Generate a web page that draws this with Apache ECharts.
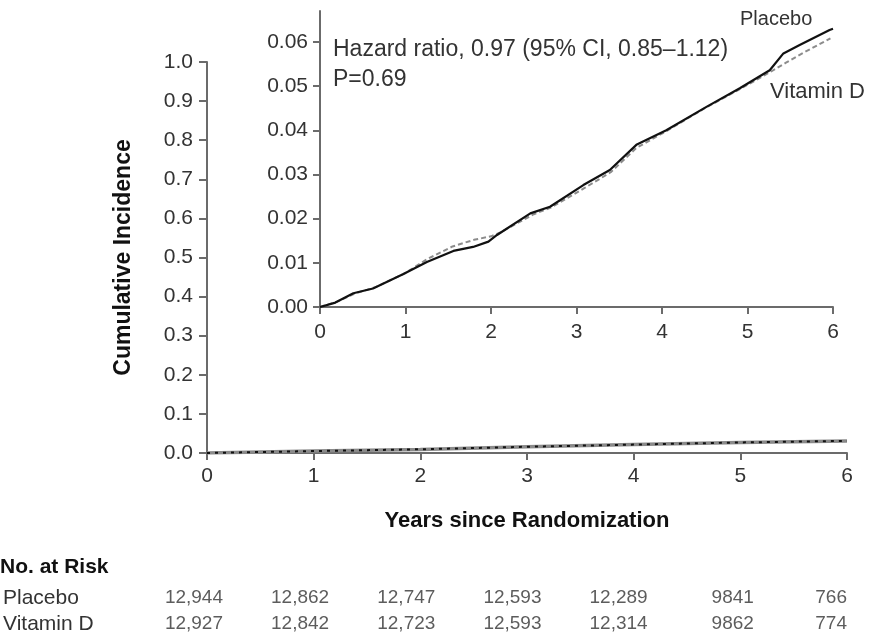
<!DOCTYPE html>
<html><head><meta charset="utf-8">
<script src="https://cdn.jsdelivr.net/npm/echarts@6/dist/echarts.min.js"></script>
<style>html,body{margin:0;padding:0;background:#fff}#c{width:874px;height:640px}</style>
</head><body><div id="c"></div>
<script>
// ---------- data ----------
var years = [0, 1, 2, 3, 4, 5, 6];
var mainTicks = [0, 0.1, 0.2, 0.3, 0.4, 0.5, 0.6, 0.7, 0.8, 0.9, 1.0];
var insetTicks = [0, 0.01, 0.02, 0.03, 0.04, 0.05, 0.06];

// main panel (full 0-1 scale)
var mainPlaceboT = [0, 1, 2, 3, 4, 5, 6];
var mainPlaceboV = [0, 0.005, 0.009, 0.016, 0.022, 0.027, 0.031];
var mainVitDT = [0, 1, 2, 3, 4, 5, 6];
var mainVitDV = [0, 0.005, 0.0095, 0.016, 0.0215, 0.027, 0.031];

// inset panel (zoomed 0-0.06 scale)
var insetPlaceboT = [0, 0.18, 0.39, 0.62, 0.97, 1.25, 1.56, 1.79, 1.97, 2.07, 2.46, 2.69, 3.08, 3.39, 3.7, 4.05, 4.52, 4.91, 5.26, 5.42, 5.61, 5.96, 6.0];
var insetPlaceboV = [0, 0.001, 0.0031, 0.0042, 0.0074, 0.0102, 0.0127, 0.0136, 0.0148, 0.0163, 0.0212, 0.0227, 0.0276, 0.031, 0.0367, 0.040, 0.0453, 0.0495, 0.0536, 0.0574, 0.0593, 0.0627, 0.063];
var insetVitDT = [0, 0.2, 0.4, 0.65, 1.0, 1.25, 1.55, 1.8, 2.0, 2.1, 2.5, 2.7, 3.1, 3.4, 3.7, 4.05, 4.5, 4.9, 5.25, 5.45, 5.65, 5.97];
var insetVitDV = [0, 0.0012, 0.003, 0.0045, 0.0077, 0.0108, 0.0137, 0.0152, 0.016, 0.0168, 0.021, 0.0225, 0.027, 0.0305, 0.036, 0.0398, 0.045, 0.0492, 0.053, 0.0553, 0.0575, 0.0608];

var groups = ['Placebo', 'Vitamin D'];
var riskPlacebo = ['12,944', '12,862', '12,747', '12,593', '12,289', '9841', '766'];
var riskVitD = ['12,927', '12,842', '12,723', '12,593', '12,314', '9862', '774'];

var hrText = 'Hazard ratio, 0.97 (95% CI, 0.85\u20131.12)';
var pText = 'P=0.69';

// ---------- chart ----------
var FONT = 'Liberation Sans';
var TXT = '#333';
var AX = '#6b6b6b';

function pairs(t, v) { return t.map(function (x, i) { return [x, v[i]]; }); }
function riskPoints() {
  var pts = [];
  var lastIdx = years.length - 1;
  years.forEach(function (y, i) {
    pts.push({ value: [y, groups[0]], txt: riskPlacebo[i], last: i === lastIdx });
    pts.push({ value: [y, groups[1]], txt: riskVitD[i], last: i === lastIdx });
  });
  return pts.map(function (p) {
    return { value: p.value, label: { formatter: p.txt, align: 'right', offset: [p.last ? 0 : 13, 0] } };
  });
}

var axisLabelStyle = { color: TXT, fontFamily: FONT, fontSize: 21 };

var chart = echarts.init(document.getElementById('c'), null, { renderer: 'canvas' });
chart.setOption({
  animation: false,
  backgroundColor: '#fff',
  title: [
    { text: hrText + '\n' + pText, left: 333, top: 35, padding: 0, textStyle: { color: TXT, fontFamily: FONT, fontSize: 23, fontWeight: 'normal', lineHeight: 30 } },
    { text: 'Placebo', left: 740, top: 9, padding: 0, textStyle: { color: TXT, fontFamily: FONT, fontSize: 20, fontWeight: 'normal' } },
    { text: 'Vitamin D', left: 770, top: 81, padding: 0, textStyle: { color: TXT, fontFamily: FONT, fontSize: 22, fontWeight: 'normal' } },
    { text: 'No. at Risk', left: 0, top: 557, padding: 0, textStyle: { color: '#111', fontFamily: FONT, fontSize: 21, fontWeight: 'bold' } }
  ],
  grid: [
    { left: 207, width: 640, top: 62, height: 391 },
    { left: 320, width: 513, top: 11, height: 296 },
    { left: 207, width: 640, top: 585, height: 52 }
  ],
  xAxis: [
    {
      gridIndex: 0, type: 'value', min: 0, max: 6, interval: 1,
      name: 'Years since Randomization', nameLocation: 'middle', nameGap: 57,
      nameTextStyle: { color: '#111', fontFamily: FONT, fontSize: 22, fontWeight: 'bold' },
      axisLine: { show: true, lineStyle: { color: AX, width: 2 } },
      axisTick: { show: true, length: 7, lineStyle: { color: AX, width: 2 } },
      axisLabel: Object.assign({ margin: 13 }, axisLabelStyle),
      splitLine: { show: false }
    },
    {
      gridIndex: 1, type: 'value', min: 0, max: 6, interval: 1,
      axisLine: { show: true, lineStyle: { color: AX, width: 2 } },
      axisTick: { show: true, length: 7, lineStyle: { color: AX, width: 2 } },
      axisLabel: Object.assign({ margin: 15 }, axisLabelStyle),
      splitLine: { show: false }
    },
    { gridIndex: 2, type: 'value', min: 0, max: 6, show: false }
  ],
  yAxis: [
    {
      gridIndex: 0, type: 'value', min: 0, max: 1, interval: 0.1,
      name: 'Cumulative Incidence', nameLocation: 'middle', nameGap: 72,
      nameTextStyle: { color: '#111', fontFamily: FONT, fontSize: 23, fontWeight: 'bold' },
      axisLine: { show: true, lineStyle: { color: AX, width: 2 } },
      axisTick: { show: true, length: 8, lineStyle: { color: AX, width: 2 } },
      axisLabel: Object.assign({ margin: 14, formatter: function (v) { return v.toFixed(1); } }, axisLabelStyle),
      splitLine: { show: false }
    },
    {
      gridIndex: 1, type: 'value', min: 0, max: 0.067,
      axisLine: { show: true, lineStyle: { color: AX, width: 2 } },
      axisTick: { show: true, length: 7, customValues: insetTicks, lineStyle: { color: AX, width: 2 } },
      axisLabel: Object.assign({ margin: 12, customValues: insetTicks, formatter: function (v) { return v.toFixed(2); } }, axisLabelStyle),
      splitLine: { show: false }
    },
    {
      gridIndex: 2, type: 'category', data: groups, inverse: true,
      axisLine: { show: false }, axisTick: { show: false },
      axisLabel: { interval: 0, color: TXT, fontFamily: FONT, fontSize: 21, align: 'left', margin: 207 }
    }
  ],
  series: [
    { type: 'line', xAxisIndex: 0, yAxisIndex: 0, data: pairs(mainPlaceboT, mainPlaceboV), symbol: 'none', lineStyle: { color: '#8a8a8a', width: 3.5 } },
    { type: 'line', xAxisIndex: 0, yAxisIndex: 0, data: pairs(mainVitDT, mainVitDV), symbol: 'none', lineStyle: { color: '#111', width: 2, type: [3, 5] } },
    { type: 'line', xAxisIndex: 1, yAxisIndex: 1, data: pairs(insetVitDT, insetVitDV), symbol: 'none', lineStyle: { color: '#8c8c8c', width: 2, type: [5, 3] } },
    { type: 'line', xAxisIndex: 1, yAxisIndex: 1, data: pairs(insetPlaceboT, insetPlaceboV), symbol: 'none', lineStyle: { color: '#111', width: 2.2 } },
    {
      type: 'scatter', xAxisIndex: 2, yAxisIndex: 2, data: riskPoints(), symbolSize: 1,
      itemStyle: { color: 'rgba(0,0,0,0)' },
      label: { show: true, position: 'inside', color: TXT, fontFamily: FONT, fontSize: 19 }
    }
  ]
});
</script>
</body></html>
